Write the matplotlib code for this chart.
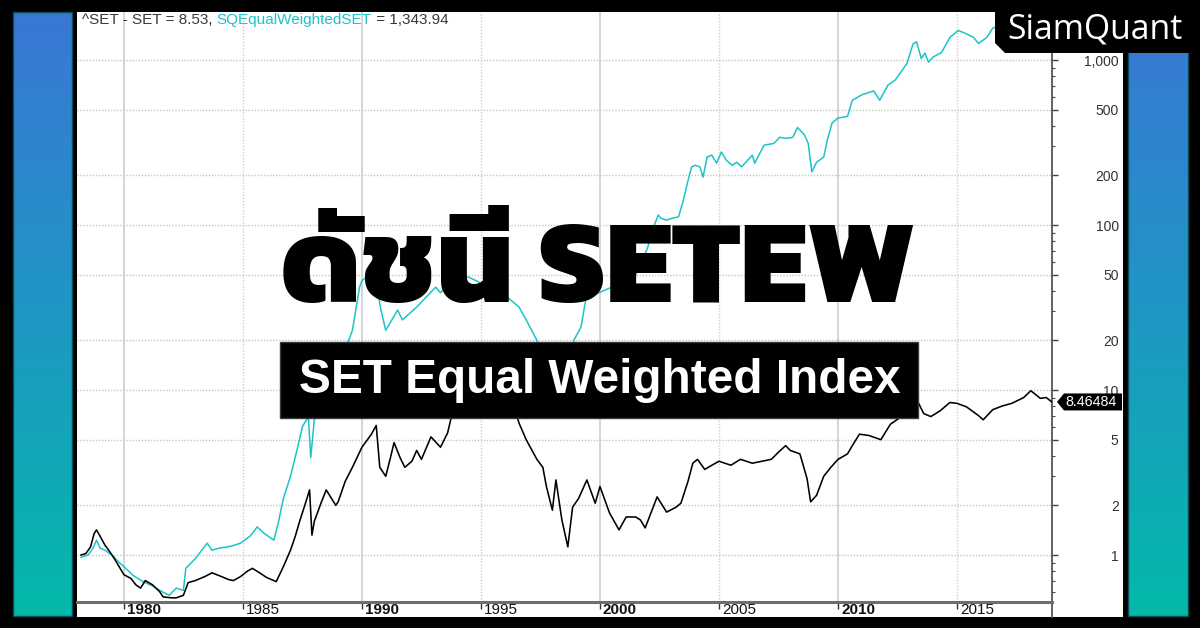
import numpy as np
import matplotlib
matplotlib.use("Agg")
import matplotlib.pyplot as plt
from matplotlib import font_manager as fm
from matplotlib.ft2font import FT2Font
from matplotlib.patches import Rectangle, Polygon
from matplotlib.colors import LinearSegmentedColormap
from matplotlib.ticker import FixedLocator, NullFormatter, FuncFormatter
from matplotlib.transforms import ScaledTranslation, blended_transform_factory

# ---------------- data ----------------
set_years = [1978.2, 1978.4, 1978.6, 1978.75, 1978.85, 1979.0, 1979.2, 1979.4, 1979.6, 1979.8,
             1980.0, 1980.3, 1980.5, 1980.7, 1980.9, 1981.2, 1981.5, 1981.65, 1982.0, 1982.2,
             1982.5, 1982.7, 1983.0, 1983.4, 1983.7, 1984.0, 1984.4, 1984.6, 1984.9, 1985.2,
             1985.4, 1985.7, 1986.0, 1986.4, 1986.7, 1987.0, 1987.2, 1987.4, 1987.6, 1987.8,
             1987.9, 1988.0, 1988.3, 1988.5, 1988.9, 1989.0, 1989.3, 1989.6, 1990.0, 1990.4,
             1990.6, 1990.75, 1991.0, 1991.2, 1991.35, 1991.6, 1991.8, 1992.1, 1992.3, 1992.5,
             1992.9, 1993.3, 1993.6, 1993.75, 1993.9, 1994.05, 1994.3, 1994.6, 1994.9, 1995.2,
             1995.5, 1995.9, 1996.2, 1996.5, 1996.6, 1996.9, 1997.35, 1997.6, 1997.75, 1998.0,
             1998.15, 1998.4, 1998.65, 1998.85, 1999.1, 1999.45, 1999.8, 2000.0, 2000.4, 2000.8,
             2001.1, 2001.5, 2001.7, 2001.9, 2002.4, 2002.8, 2003.2, 2003.4, 2003.7, 2003.9,
             2004.1, 2004.4, 2004.7, 2005.0, 2005.5, 2005.9, 2006.4, 2006.8, 2007.2, 2007.5,
             2007.8, 2008.0, 2008.4, 2008.7, 2008.85, 2009.1, 2009.4, 2009.7, 2010.0, 2010.4,
             2010.6, 2010.9, 2011.3, 2011.8, 2012.2, 2012.6, 2012.9, 2013.3, 2013.6, 2013.9,
             2014.3, 2014.7, 2015.0, 2015.4, 2015.9, 2016.1, 2016.5, 2016.9, 2017.3, 2017.8,
             2018.1, 2018.5, 2018.75, 2018.98]
set_vals = [1.00, 1.02, 1.12, 1.35, 1.42, 1.30, 1.15, 1.05, 0.95, 0.85,
            0.76, 0.72, 0.66, 0.63, 0.70, 0.66, 0.60, 0.557, 0.55, 0.55,
            0.57, 0.68, 0.70, 0.74, 0.78, 0.75, 0.71, 0.70, 0.74, 0.80,
            0.83, 0.78, 0.73, 0.69, 0.85, 1.07, 1.30, 1.63, 2.00, 2.48,
            1.32, 1.60, 2.10, 2.48, 2.00, 2.10, 2.80, 3.40, 4.50, 5.40,
            6.10, 3.40, 3.00, 3.90, 4.80, 3.90, 3.40, 3.70, 4.30, 3.80,
            5.20, 4.50, 5.50, 6.80, 8.50, 9.40, 7.80, 7.60, 8.00, 7.00,
            7.60, 7.20, 7.80, 7.00, 6.30, 5.00, 3.80, 3.40, 2.60, 1.87,
            2.85, 1.63, 1.12, 1.95, 2.20, 2.85, 2.06, 2.60, 1.80, 1.42,
            1.70, 1.70, 1.63, 1.46, 2.25, 1.82, 1.95, 2.06, 2.80, 3.60,
            3.80, 3.30, 3.50, 3.70, 3.50, 3.80, 3.60, 3.70, 3.80, 4.20,
            4.60, 4.30, 4.10, 2.90, 2.10, 2.30, 3.00, 3.40, 3.80, 4.10,
            4.60, 5.40, 5.30, 5.00, 6.20, 6.80, 7.20, 8.80, 7.20, 6.90,
            7.50, 8.40, 8.30, 7.90, 7.00, 6.60, 7.60, 8.00, 8.30, 9.00,
            9.90, 8.90, 9.00, 8.46484]

ew_years = [1978.2, 1978.5, 1978.7, 1978.85, 1979.0, 1979.2, 1979.5, 1979.8, 1980.0, 1980.4,
            1980.8, 1981.2, 1981.6, 1981.9, 1982.2, 1982.5, 1982.6, 1983.0, 1983.5, 1983.7,
            1984.0, 1984.5, 1984.9, 1985.3, 1985.6, 1985.9, 1986.3, 1986.5, 1986.7, 1987.0,
            1987.3, 1987.5, 1987.75, 1987.85, 1988.0, 1988.4, 1988.8, 1989.2, 1989.6, 1989.9,
            1990.0, 1990.3, 1990.6, 1990.8, 1991.0, 1991.5, 1991.7, 1992.3, 1992.7, 1993.1,
            1993.3, 1993.7, 1994.1, 1994.8, 1995.3, 1995.7, 1996.1, 1996.6, 1996.9, 1997.35,
            1997.7, 1998.0, 1998.4, 1998.65, 1998.85, 1998.9, 1999.2, 1999.4, 1999.8, 2000.5,
            2001.0, 2001.5, 2002.0, 2002.2, 2002.45, 2002.55, 2002.8, 2003.05, 2003.3, 2003.5,
            2003.7, 2003.85, 2004.0, 2004.2, 2004.33, 2004.5, 2004.7, 2004.9, 2005.1, 2005.3,
            2005.55, 2005.75, 2005.95, 2006.4, 2006.5, 2006.7, 2006.9, 2007.3, 2007.55, 2007.85,
            2008.1, 2008.3, 2008.6, 2008.75, 2008.9, 2009.1, 2009.4, 2009.55, 2009.75, 2010.0,
            2010.4, 2010.6, 2011.0, 2011.5, 2011.75, 2012.1, 2012.4, 2012.9, 2013.15, 2013.3,
            2013.5, 2013.65, 2013.8, 2014.0, 2014.35, 2014.7, 2015.05, 2015.35, 2015.7, 2015.9,
            2016.25, 2016.5, 2017.0, 2017.5, 2018.0, 2018.4, 2018.98]
ew_vals = [0.97, 1.00, 1.10, 1.23, 1.10, 1.07, 1.00, 0.90, 0.85, 0.75,
           0.69, 0.65, 0.60, 0.57, 0.63, 0.61, 0.83, 0.95, 1.18, 1.07,
           1.10, 1.13, 1.18, 1.30, 1.48, 1.35, 1.23, 1.60, 2.20, 3.00,
           4.50, 6.00, 6.90, 3.90, 6.60, 7.90, 11.0, 16.0, 23.0, 42.0,
           46.0, 50.0, 45.0, 30.5, 23.0, 30.5, 26.6, 31.8, 36.6, 42.0,
           38.8, 45.0, 51.0, 46.0, 42.0, 40.0, 36.6, 31.8, 26.6, 20.0,
           14.0, 10.0, 9.0, 8.0, 15.0, 20.0, 24.0, 35.0, 38.0, 42.0,
           40.0, 50.0, 72.6, 93.0, 115.0, 110.0, 107.0, 110.0, 112.0, 141.0,
           186.0, 225.0, 230.0, 225.0, 195.0, 258.0, 265.0, 237.0, 277.0, 248.0,
           230.0, 240.0, 225.0, 265.0, 237.0, 270.0, 305.0, 312.0, 340.0, 335.0,
           340.0, 390.0, 350.0, 312.0, 210.0, 240.0, 258.0, 327.0, 415.0, 445.0,
           455.0, 570.0, 615.0, 650.0, 570.0, 705.0, 755.0, 955.0, 1250.0, 1290.0,
           1020.0, 1100.0, 970.0, 1045.0, 1110.0, 1370.0, 1510.0, 1450.0, 1370.0, 1260.0,
           1370.0, 1560.0, 1650.0, 1700.0, 1800.0, 1500.0, 1343.94]

ytick_vals = [1, 2, 5, 10, 20, 50, 100, 200, 500, 1000]
xtick_years = [1980, 1985, 1990, 1995, 2000, 2005, 2010, 2015]
xtick_labels = ["1980", "1985", "1990", "1995", "2000", "2005", "2010", "2015"]
last_tag = "8.46484"
legend_parts = ["^SET - SET = 8.53, ", "SQEqualWeightedSET", " = 1,343.94"]
title_text = "ดัชนี SETEW"
subtitle_text = "SET Equal Weighted Index"
logo_text = "SiamQuant"

# ---------------- fonts ----------------
def heaviest_font_with(ch):
    seen, cands = set(), []
    for f in fm.fontManager.ttflist:
        if f.fname in seen:
            continue
        seen.add(f.fname)
        try:
            if ord(ch) in FT2Font(f.fname).get_charmap():
                cands.append(f)
        except Exception:
            pass
    if not cands:
        return None
    def wt(f):
        w = f.weight
        if isinstance(w, (int, float)):
            return w
        return {"black": 900, "heavy": 800, "extra bold": 800, "bold": 700,
                "semibold": 600, "medium": 500}.get(str(w).lower(), 400)
    cands.sort(key=lambda f: (-wt(f), f.style != "normal"))
    return cands[0]

thai_font = heaviest_font_with("ด")

CYAN = "#1cc3c9"
W, H = 1200, 628
fig = plt.figure(figsize=(12, 6.28), dpi=100, facecolor="black")

# background / decorations
bg = fig.add_axes([0, 0, 1, 1], zorder=0)
bg.set_xlim(0, W); bg.set_ylim(H, 0); bg.axis("off")
bg.add_patch(Rectangle((77, 12), 1123 - 77, 617 - 12, fc="white", ec="none"))
cmap = LinearSegmentedColormap.from_list("sq", ["#3a77d6", "#1f97c4", "#03b9a9"])
grad = np.linspace(0, 1, 256).reshape(-1, 1)
for x0, x1 in [(13, 72), (1128, 1188)]:
    bg.imshow(grad, extent=(x0, x1, 616, 12), cmap=cmap, aspect="auto", zorder=1)
    bg.add_patch(Rectangle((x0, 12), x1 - x0, 604, fc="none", ec="#0b4d55", lw=1, zorder=2))
bg.plot([1052, 1052], [602, 617], color="#555555", lw=1.3, zorder=3)

# main chart
ax = fig.add_axes([77 / W, (H - 602) / H, (1052 - 77) / W, 590 / H], zorder=2)
ax.set_facecolor("white")
ax.set_yscale("log")
ax.set_ylim(0.519, 1954)
ax.set_xlim(1978.03, 2018.99)

for yr in xtick_years:
    if yr % 10 == 0:
        ax.axvline(yr, color="#d2d2d2", lw=1.3, zorder=0)
    else:
        ax.axvline(yr, color="#cfcfcf", lw=1.0, ls=(0, (1, 1.2)), zorder=0)
for v in ytick_vals:
    ax.axhline(v, color="#c6c6c6", lw=1.0, ls=(0, (1, 1.2)), zorder=0)

ax.plot(ew_years, ew_vals, color=CYAN, lw=1.1, zorder=3)
ax.plot(set_years, set_vals, color="black", lw=1.15, zorder=4)

for s in ["left", "top"]:
    ax.spines[s].set_visible(False)
ax.spines["right"].set_color("#555555"); ax.spines["right"].set_linewidth(1.3)
ax.spines["bottom"].set_color("#6e6e6e"); ax.spines["bottom"].set_linewidth(2.2)

ax.yaxis.tick_right()
ax.yaxis.set_major_locator(FixedLocator(ytick_vals))
ax.yaxis.set_major_formatter(FuncFormatter(lambda v, p: f"{v:,.0f}"))
minor = [m * 10.0 ** e for e in range(-1, 4) for m in (3, 4, 6, 7, 8, 9)]
ax.yaxis.set_minor_locator(FixedLocator(minor))
ax.yaxis.set_minor_formatter(NullFormatter())
ax.tick_params(axis="y", which="major", length=4, width=1, color="#444444",
               pad=44, labelsize=10, labelcolor="#333333")
ax.tick_params(axis="y", which="minor", length=2, width=0.8, color="#444444")
for lab in ax.get_yticklabels():
    lab.set_horizontalalignment("right")
    lab.set_fontfamily("Liberation Sans")

ax.set_xticks(xtick_years)
ax.set_xticklabels(xtick_labels)
ax.xaxis.set_minor_locator(FixedLocator([]))
ax.tick_params(axis="x", which="major", length=5, width=1, color="#333333",
               direction="out", pad=-4.3, labelsize=11, labelcolor="#111111")
off = ScaledTranslation(3 / 100, 0, fig.dpi_scale_trans)
for yr, lab in zip(xtick_years, ax.get_xticklabels()):
    lab.set_horizontalalignment("left")
    lab.set_fontfamily("Liberation Sans")
    lab.set_fontweight("bold" if yr % 10 == 0 else "normal")
    lab.set_transform(lab.get_transform() + off)

# last-value tag
tr = blended_transform_factory(ax.transAxes, ax.transData)
anchor = ScaledTranslation(1.0, set_vals[-1], tr)
tag = Polygon(np.array([[5, 0], [12, 8.5], [70, 8.5], [70, -8.5], [12, -8.5]]) / 100.0,
              closed=True, fc="black", ec="none",
              transform=fig.dpi_scale_trans + anchor, clip_on=False, zorder=6)
ax.add_patch(tag)
ax.text(0.13, 0, last_tag, transform=fig.dpi_scale_trans + anchor, color="white",
        fontsize=10.3, family="Liberation Sans", ha="left", va="center", zorder=7,
        clip_on=False)

# overlay texts
ov = fig.add_axes([0, 0, 1, 1], zorder=5)
ov.set_xlim(0, W); ov.set_ylim(H, 0); ov.axis("off")

t1 = ov.text(82, 24, legend_parts[0], color="#383838", fontsize=11,
             family="Liberation Sans", ha="left", va="baseline")
t2 = ov.annotate(legend_parts[1], xy=(1, 0), xycoords=t1, color=CYAN, fontsize=11,
                 family="Liberation Sans", ha="left", va="bottom")
ov.annotate(legend_parts[2], xy=(1, 0), xycoords=t2, color="#383838", fontsize=11,
            family="Liberation Sans", ha="left", va="bottom")

# logo
ov.add_patch(Polygon([[995, 0], [1200, 0], [1200, 53], [1005, 53], [995, 43]],
                     closed=True, fc="black", ec="none"))
ov.text(1007, 38, logo_text, color="white", fontsize=24.3, family="Open Sans",
        ha="left", va="baseline")

# title
if thai_font is not None:
    tfam = [fm.FontProperties(fname=thai_font.fname).get_name(), "DejaVu Sans"]
else:
    tfam = ["DejaVu Sans"]
title = ov.text(281, 302, title_text, color="black", fontsize=80, family=tfam,
                fontweight="heavy", ha="left", va="baseline")
fig.canvas.draw()
bb = title.get_window_extent()
if bb.width > 0:
    title.set_fontsize(80 * 635.0 / bb.width)

ov.add_patch(Rectangle((280, 342), 638, 76, fc="black", ec="#3a3a3a", lw=1))
ov.text(600, 393, subtitle_text, color="white", fontsize=34.4, family="Liberation Sans",
        fontweight="bold", ha="center", va="baseline")

fig.savefig("out.png", dpi=100, facecolor="black")
